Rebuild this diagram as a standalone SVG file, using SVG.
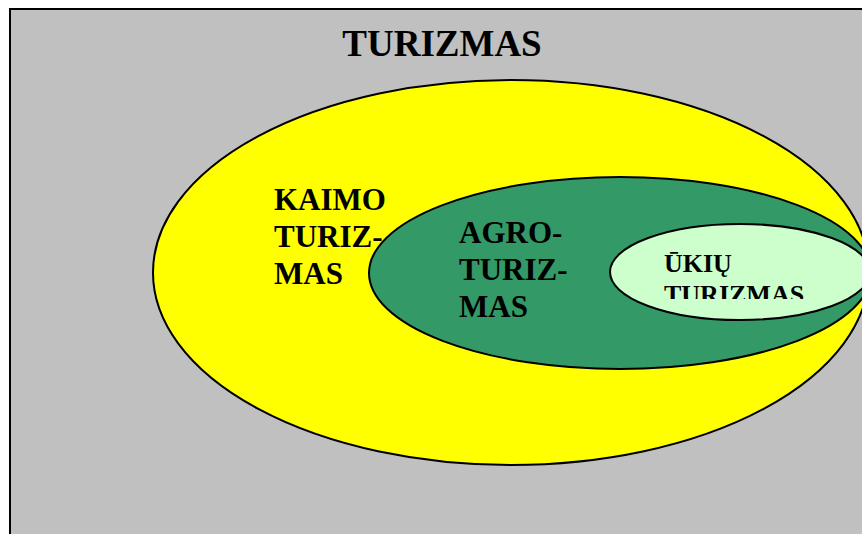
<svg xmlns="http://www.w3.org/2000/svg" width="862" height="534" viewBox="0 0 862 534">
<defs>
<style>
.e{stroke:#000;stroke-width:2}
.t{font-family:"Liberation Serif","Times New Roman",serif;font-weight:bold;fill:#000}
</style>
<clipPath id="uc"><rect x="600" y="220" width="270" height="79"/></clipPath>
</defs>
<rect width="862" height="534" fill="#fff"/>
<g id="frame">
<rect x="10" y="9" width="870" height="540" fill="#C0C0C0" stroke="#000" stroke-width="2"/>
<text class="t" x="442" y="56" font-size="37" text-anchor="middle">TURIZMAS</text>
</g>
<g id="kaimo">
<ellipse class="e" cx="511" cy="272.5" rx="358" ry="192.5" fill="#FFFF00"/>
<text class="t" font-size="31" x="274" y="210">KAIMO</text>
<text class="t" font-size="31" x="274" y="247">TURIZ-</text>
<text class="t" font-size="31" x="274" y="284">MAS</text>
</g>
<g id="agro">
<ellipse class="e" cx="620" cy="273" rx="251" ry="96" fill="#339966"/>
<text class="t" font-size="31" x="459" y="243">AGRO-</text>
<text class="t" font-size="31" x="459" y="280">TURIZ-</text>
<text class="t" font-size="31" x="459" y="317">MAS</text>
</g>
<g id="ukiu">
<ellipse class="e" cx="740" cy="272" rx="130" ry="48" fill="#CCFFCC"/>
<g clip-path="url(#uc)">
<text class="t" font-size="26" x="664" y="272">ŪKIŲ</text>
<text class="t" font-size="26" x="664" y="303">TURIZMAS</text>
</g>
</g>
</svg>
